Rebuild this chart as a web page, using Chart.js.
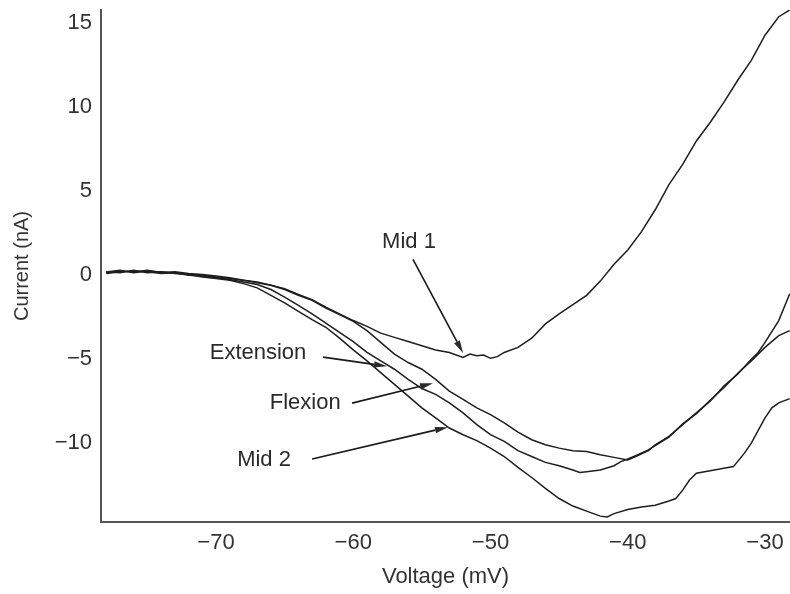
<!DOCTYPE html>
<html>
<head>
<meta charset="utf-8">
<script src="https://cdn.jsdelivr.net/npm/chart.js@4/dist/chart.umd.min.js"></script>
<style>
  html, body { margin: 0; padding: 0; background: #fff; }
</style>
</head>
<body>
<canvas id="chart" width="790" height="594"></canvas>
<script>
const xTicks = [-70, -60, -50, -40, -30];
const yTicks = [-10, -5, 0, 5, 10, 15];

const mid1V = [-78, -77, -76, -75, -74, -73, -72, -71, -70, -69, -68, -67, -66, -65, -64, -63, -62, -61, -60, -59, -58, -57, -56, -55, -54, -53, -52, -51.5, -51, -50.5, -50, -49.5, -49, -48, -47, -46, -45, -44, -43, -42, -41, -40, -39, -38, -37, -36, -35, -34, -33, -32, -31, -30, -29, -28.2];
const mid1I = [0.15, 0.25, 0.2, 0.3, 0.15, 0.2, 0.1, 0.05, -0.05, -0.15, -0.3, -0.4, -0.6, -0.8, -1.15, -1.45, -1.9, -2.3, -2.7, -3.05, -3.45, -3.7, -3.95, -4.2, -4.45, -4.6, -4.9, -4.7, -4.8, -4.75, -4.95, -4.85, -4.6, -4.3, -3.75, -2.9, -2.3, -1.75, -1.2, -0.35, 0.65, 1.5, 2.6, 3.9, 5.4, 6.6, 8.0, 9.1, 10.3, 11.6, 12.8, 14.3, 15.4, 15.8];

const extV = [-78, -77, -76, -75, -74, -73, -72, -71, -70, -69, -68, -67, -66, -65, -64, -63, -62, -61, -60, -59, -58, -57, -56, -55, -54, -53, -52, -51, -50, -49, -48, -47, -46, -45, -44, -43, -42, -41, -40, -39.3, -38.5, -38, -37, -36, -35, -34, -33, -32, -31, -30.5, -30, -29, -28.2];
const extI = [0.2, 0.3, 0.15, 0.25, 0.2, 0.15, 0.05, 0.0, -0.1, -0.2, -0.3, -0.45, -0.6, -0.85, -1.2, -1.5, -1.95, -2.35, -2.75, -3.3, -4.0, -4.7, -5.2, -5.6, -6.2, -6.9, -7.4, -7.9, -8.3, -8.8, -9.35, -9.8, -10.1, -10.3, -10.45, -10.5, -10.7, -10.85, -11.0, -10.75, -10.45, -10.1, -9.6, -8.9, -8.2, -7.5, -6.6, -5.9, -5.0, -4.6, -4.0, -2.7, -1.1];

const flexV = [-78, -77, -76, -75, -74, -73, -72, -71, -70, -69, -68, -67, -66, -65, -64, -63, -62, -61, -60, -59, -58, -57, -56, -55, -54, -53, -52, -51, -50, -49, -48, -47, -46, -45, -44, -43.5, -43, -42, -41, -40.5, -40, -39.3, -38.5, -38, -37, -36, -35, -34, -33, -32, -31, -30.5, -30, -29, -28.2];
const flexI = [0.1, 0.2, 0.25, 0.2, 0.1, 0.15, 0.0, -0.05, -0.15, -0.25, -0.4, -0.55, -0.85, -1.3, -1.8, -2.3, -2.85, -3.4, -3.95, -4.6, -5.1, -5.6, -6.2, -6.75, -7.1, -7.6, -8.2, -8.9, -9.5, -9.9, -10.45, -10.8, -11.15, -11.35, -11.6, -11.75, -11.7, -11.6, -11.35, -11.1, -10.95, -10.7, -10.4, -10.15, -9.65, -8.85, -8.25, -7.45, -6.7, -5.85, -5.1, -4.7, -4.3, -3.6, -3.3];

const mid2V = [-78, -77, -76, -75, -74, -73, -72, -71, -70, -69, -68, -67, -66, -65, -64, -63, -62, -61, -60, -59, -58, -57, -56, -55, -54, -53, -52, -51, -50, -49, -48, -47, -46, -45, -44, -43, -42, -41.5, -41, -40, -39, -38, -37, -36.5, -36, -35.5, -35, -34, -33, -32.3, -31.5, -31, -30, -29.5, -29, -28.2];
const mid2I = [0.2, 0.15, 0.3, 0.15, 0.2, 0.1, 0.05, -0.1, -0.2, -0.3, -0.5, -0.75, -1.2, -1.65, -2.15, -2.65, -3.1, -3.75, -4.45, -5.1, -5.8, -6.5, -7.2, -7.9, -8.5, -9.1, -9.5, -9.85, -10.3, -10.8, -11.45, -12.05, -12.7, -13.3, -13.75, -14.05, -14.35, -14.4, -14.2, -13.95, -13.8, -13.7, -13.45, -13.3, -12.8, -12.2, -11.8, -11.65, -11.5, -11.4, -10.6, -10.0, -8.5, -7.9, -7.6, -7.35];

const seriesNames = ['Mid 1', 'Extension', 'Flexion', 'Mid 2'];

// callouts: label centre and arrow in data units
const callouts = [
  { text: 'Mid 1', at: [-55.94, 1.96], from: [-55.65, 0.95], to: [-52.0, -4.64] },
  { text: 'Extension', at: [-66.94, -4.64], from: [-62.2, -4.88], to: [-57.54, -5.42] },
  { text: 'Flexion', at: [-63.5, -7.62], from: [-60.09, -7.62], to: [-54.19, -6.43] },
  { text: 'Mid 2', at: [-66.5, -11.0], from: [-63.0, -10.95], to: [-53.1, -9.05] },
];

const FONT = 'Liberation Sans, Arial, Helvetica, sans-serif';
const pairs = (xs, ys) => xs.map((x, i) => ({ x, y: ys[i] }));

const calloutPlugin = {
  id: 'callouts',
  afterDatasetsDraw(chart) {
    const { ctx, scales: { x, y } } = chart;
    ctx.save();
    ctx.fillStyle = '#2a2a2a';
    ctx.strokeStyle = '#1a1a1a';
    ctx.lineWidth = 1.6;
    ctx.font = '22px ' + FONT;
    ctx.textAlign = 'center';
    ctx.textBaseline = 'middle';
    callouts.forEach(c => {
      ctx.fillText(c.text, x.getPixelForValue(c.at[0]), y.getPixelForValue(c.at[1]));
      const x0 = x.getPixelForValue(c.from[0]), y0 = y.getPixelForValue(c.from[1]);
      const x1 = x.getPixelForValue(c.to[0]), y1 = y.getPixelForValue(c.to[1]);
      const ang = Math.atan2(y1 - y0, x1 - x0);
      const len = 13, half = 3.2;
      const bx = x1 - len * Math.cos(ang), by = y1 - len * Math.sin(ang);
      ctx.beginPath();
      ctx.moveTo(x0, y0);
      ctx.lineTo(bx, by);
      ctx.stroke();
      ctx.beginPath();
      ctx.moveTo(x1, y1);
      ctx.lineTo(bx + half * Math.sin(ang), by - half * Math.cos(ang));
      ctx.lineTo(bx - half * Math.sin(ang), by + half * Math.cos(ang));
      ctx.closePath();
      ctx.fill();
    });
    ctx.restore();
  }
};

const data = {
  datasets: [
    pairs(mid1V, mid1I),
    pairs(extV, extI),
    pairs(flexV, flexI),
    pairs(mid2V, mid2I),
  ].map((d, i) => ({
    label: seriesNames[i],
    data: d,
    showLine: true,
    borderColor: '#1e1e1e',
    borderWidth: 1.5,
    pointRadius: 0,
    tension: 0,
  }))
};

new Chart(document.getElementById('chart'), {
  type: 'scatter',
  data,
  options: {
    responsive: false,
    animation: false,
    layout: { padding: { top: 10, right: 0, bottom: 0, left: 0 } },
    plugins: { legend: { display: false }, tooltip: { enabled: false } },
    scales: {
      x: {
        type: 'linear',
        min: -78.38,
        max: -28.18,
        afterBuildTicks: s => { s.ticks = xTicks.map(v => ({ value: v })); },
        afterFit: s => { s.height = 72; s.paddingLeft = 0; s.paddingRight = 0; },
        grid: { display: false, drawTicks: false },
        border: { display: true, color: '#555', width: 2 },
        ticks: {
          color: '#333',
          padding: 8,
          maxRotation: 0,
          font: { family: FONT, size: 22 },
          callback: v => (v < 0 ? '\u2212' + Math.abs(v) : String(v)),
        },
        title: {
          display: true,
          text: 'Voltage (mV)',
          color: '#333',
          padding: { top: 0, bottom: 4 },
          font: { family: FONT, size: 22 },
        },
      },
      y: {
        type: 'linear',
        min: -14.7,
        max: 15.8,
        afterBuildTicks: s => { s.ticks = yTicks.map(v => ({ value: v })); },
        afterFit: s => { s.width = 101; s.paddingTop = 0; s.paddingBottom = 0; },
        grid: { display: false, drawTicks: false },
        border: { display: true, color: '#555', width: 2 },
        ticks: {
          color: '#333',
          padding: 9,
          font: { family: FONT, size: 22 },
          callback: v => (v < 0 ? '\u2212' + Math.abs(v) : String(v)),
        },
        title: {
          display: true,
          text: 'Current (nA)',
          color: '#333',
          padding: { top: 10, bottom: 0 },
          font: { family: FONT, size: 20 },
        },
      },
    },
  },
  plugins: [calloutPlugin],
});
</script>
</body>
</html>
